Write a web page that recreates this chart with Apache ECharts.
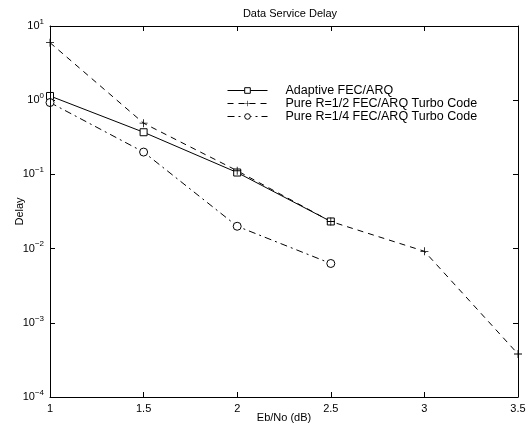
<!DOCTYPE html>
<html lang="en">

<head>
    <meta charset="UTF-8">
    <script src="https://cdn.jsdelivr.net/npm/echarts@6/dist/echarts.min.js"></script>
    <title>Data Service Delay</title>
</head>

<body style="margin:0">
    <div id="main" style="width: 532px;height:425px;"></div>
</body>
<script>
    // Eb/No (dB) values and delay per scheme
    var ebno = [1, 1.5, 2, 2.5, 3, 3.5];
    var adaptive = [1.14, 0.37, 0.106, 0.0232];
    var rateHalf = [5.96, 0.49, 0.112, 0.0232, 0.0092, 0.00038];
    var rateQuarter = [0.93, 0.20, 0.020, 0.0063];
    var names = ['Adaptive FEC/ARQ', 'Pure R=1/2 FEC/ARQ Turbo Code', 'Pure R=1/4 FEC/ARQ Turbo Code'];
    var xRange = [1, 3.5];
    var yRange = [1e-4, 10];

    function pairs(ys) {
        return ys.map(function (y, i) { return [ebno[i], y]; });
    }

    var font = 'Liberation Sans, Arial, sans-serif';
    var plus = 'path://M4.5,0h1v4.5h4.5v1h-4.5v4.5h-1v-4.5h-4.5v-1h4.5z';

    function expLabel(v) {
        var e = Math.round(Math.log10(v));
        return '{b|10}{s|' + (e < 0 ? '\u2212' + (-e) : e) + '}';
    }
    var rich = {
        b: { fontSize: 11, fontFamily: font, color: '#000' },
        s: { fontSize: 8, fontFamily: font, color: '#000', verticalAlign: 'bottom', padding: [0, 0, 9, 0] }
    };

    function axLine() {
        return { show: true, onZero: false, lineStyle: { color: '#000', width: 1 } };
    }
    function majorTick() {
        return { show: true, inside: true, length: 5, lineStyle: { color: '#000', width: 1 } };
    }
    function hiddenSplit() {
        return { show: true, lineStyle: { color: 'rgba(0,0,0,0)' } };
    }

    var myChart = echarts.init(document.getElementById('main'));
    var option = {
        animation: false,
        title: {
            text: 'Data Service Delay',
            left: 285, top: 3, textAlign: 'center',
            textStyle: { fontSize: 11, fontWeight: 'normal', fontFamily: font, color: '#000' }
        },
        legend: {
            orient: 'vertical',
            left: 222, top: 79,
            itemWidth: 40, itemHeight: 7, itemGap: 0,
            lineStyle: { width: 1 },
            itemStyle: { borderWidth: 1 },
            textStyle: { fontSize: 12.5, lineHeight: 10, fontFamily: font, color: '#000', padding: [0, 0, 0, 13] },
            data: names
        },
        grid: { left: 50, right: 14, top: 26, bottom: 28, outerBoundsMode: 'none' },
        xAxis: [{
            type: 'value', min: xRange[0], max: xRange[1],
            name: 'Eb/No (dB)', nameLocation: 'middle', nameGap: 15, nameMoveOverlap: false,
            nameTextStyle: { fontSize: 11, fontFamily: font, color: '#000' },
            axisLine: axLine(),
            axisTick: majorTick(),
            axisLabel: { fontSize: 11, fontFamily: font, color: '#000', margin: 6 },
            splitLine: hiddenSplit()
        }, {
            type: 'value', min: xRange[0], max: xRange[1], position: 'top',
            axisLine: axLine(),
            axisTick: majorTick(),
            axisLabel: { show: false },
            splitLine: hiddenSplit()
        }],
        yAxis: [{
            type: 'log', min: yRange[0], max: yRange[1], logBase: 10,
            name: 'Delay', nameLocation: 'middle', nameGap: 25, nameMoveOverlap: false,
            nameTextStyle: { fontSize: 11, fontFamily: font, color: '#000' },
            axisLine: axLine(),
            axisTick: majorTick(),
            axisLabel: { formatter: expLabel, rich: rich, margin: 6 },
            splitLine: hiddenSplit()
        }, {
            type: 'log', min: yRange[0], max: yRange[1], logBase: 10, position: 'right',
            axisLine: axLine(),
            axisTick: majorTick(),
            axisLabel: { show: false },
            splitLine: hiddenSplit()
        }],
        series: [{
            name: names[0], type: 'line', data: pairs(adaptive),
            symbol: 'rect', symbolSize: 7,
            lineStyle: { color: '#000', width: 1 },
            itemStyle: { color: '#fff', borderColor: '#000', borderWidth: 1 },
            // plot frame at the axis limits
            markLine: {
                silent: true, symbol: 'none', label: { show: false },
                lineStyle: { color: '#000', width: 1, type: 'solid' },
                data: [{ xAxis: xRange[0] }, { xAxis: xRange[1] }, { yAxis: yRange[0] }, { yAxis: yRange[1] }]
            }
        }, {
            name: names[1], type: 'line', data: pairs(rateHalf),
            symbol: plus, symbolSize: 8,
            lineStyle: { color: '#000', width: 1, type: [6, 5] },
            itemStyle: { color: '#000', borderWidth: 0 }
        }, {
            name: names[2], type: 'line', data: pairs(rateQuarter),
            symbol: 'circle', symbolSize: 8,
            lineStyle: { color: '#000', width: 1, type: [7, 4, 2, 4] },
            itemStyle: { color: '#fff', borderColor: '#000', borderWidth: 1 }
        }]
    };
    myChart.setOption(option);
</script>

</html>
